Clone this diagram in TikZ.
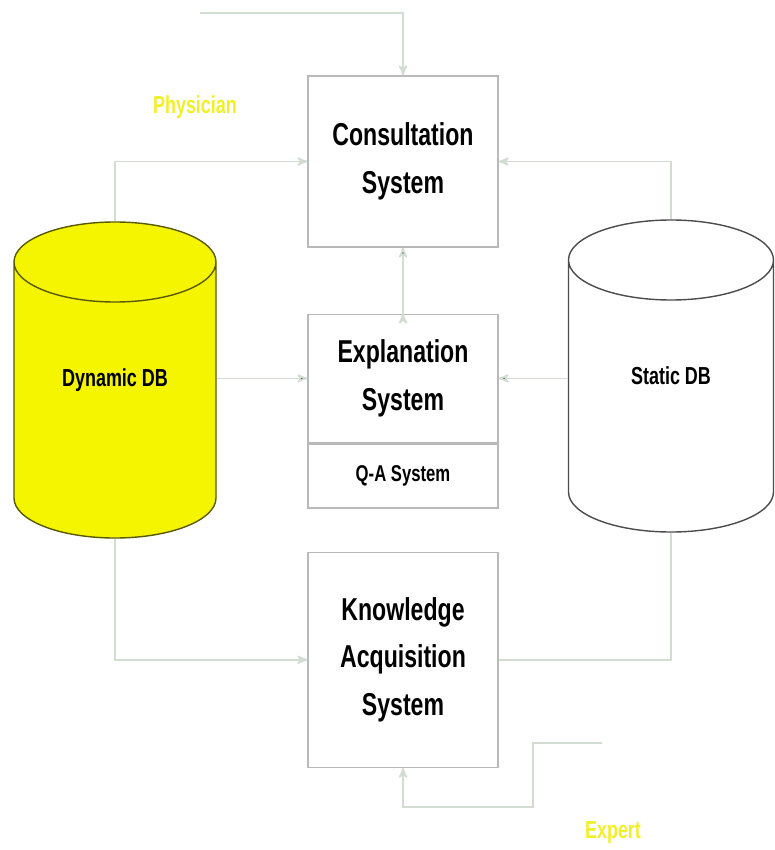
\documentclass[tikz,border=0pt]{standalone}
\usepackage{fontspec}
\usepackage{tikz}
\usetikzlibrary{arrows}
\usetikzlibrary{shapes.geometric}
\usetikzlibrary{positioning}
\newfontfamily\diagfont{Liberation Sans}[FakeStretch=0.73]
\definecolor{linkgray}{RGB}{210,220,210}
\definecolor{boxgray}{RGB}{185,185,185}
\definecolor{dbyellow}{RGB}{245,245,0}
\definecolor{dbedge}{RGB}{90,90,0}
\definecolor{labelyellow}{RGB}{240,240,40}
\tikzset{
  system/.style={draw=boxgray, line width=0.8pt, minimum width=38mm,
    align=center, font=\diagfont\bfseries\fontsize{18}{27}\selectfont},
  database/.style={cylinder, shape border rotate=90, aspect=1.6,
    inner sep=5mm, line width=0.8pt, anchor=shape center},
  dbtext/.style={font=\diagfont\bfseries\fontsize{14}{16}\selectfont},
  actor/.style={text=labelyellow,
    font=\diagfont\bfseries\fontsize{14}{16}\selectfont},
  link/.style={draw=linkgray, line width=1pt}
}
\begin{document}
\begin{tikzpicture}[x=0.2mm, y=-0.2mm,
      >=stealth',
      node distance=13.2mm]

    \useasboundingbox (0,0) rectangle (775,850);

    \node[system, minimum height=34.2mm]
      (Consultation) at (403,161.5) {Consultation\\System};
    \node[system, minimum height=25.6mm]
      (Explanation) [below=of Consultation] {Explanation\\System};
    \node[system, minimum height=12.8mm,
      font=\diagfont\bfseries\fontsize{13}{15}\selectfont]
      (QASystem) [below=0mm of Explanation] {Q-A System};
    \node[system, minimum height=43mm]
      (Knowledge) [below=8.6mm of QASystem] {Knowledge\\Acquisition\\System};

    \node[database, fill=dbyellow, draw=dbedge,
      minimum height=63.2mm, minimum width=40.4mm]
      (DynamicDB) at (115,380) {};
    \node[dbtext] (DynamicText) at (DynamicDB.shape center) {Dynamic DB};
    \node[database, fill=white, draw=black!70,
      minimum height=62.4mm, minimum width=41mm]
      (StaticDB) at (671,376) {};
    \node[dbtext] (StaticText) at (StaticDB.shape center) {Static DB};

    \node[actor] (Physician) at (195,107) {Physician};
    \node[actor] (Expert) at (613,833) {Expert};

    \coordinate (PhysicianLine) at (200,13);
    \coordinate (ExpertLine) at (602,743);
    \coordinate (ExpertBend) at (533,807);

    \path[link, ->]
      (Explanation.west -| DynamicDB.east) edge (Explanation.west)
      (Explanation.east -| StaticDB.west) edge (Explanation.east)
      (Explanation.north) edge (Consultation.south);
    \draw[link, ->] (PhysicianLine) -| (Consultation.north);
    \draw[link, ->] (DynamicDB.north) |- (Consultation.west);
    \draw[link, ->] (StaticDB.north) |- (Consultation.east);
    \draw[link, ->] (DynamicDB.south) |- (Knowledge.west);
    \draw[link] (Knowledge.east) -| (StaticDB.south);
    \draw[link, ->] (ExpertLine) -| (ExpertBend) -| (Knowledge.south);

  \end{tikzpicture}
\end{document}
